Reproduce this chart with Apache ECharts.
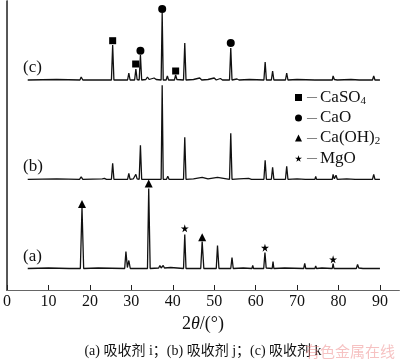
<!DOCTYPE html>
<html><head><meta charset="utf-8">
<script src="https://cdn.jsdelivr.net/npm/echarts@6/dist/echarts.min.js"></script>
<style>html,body{margin:0;padding:0;background:#fff}#c{width:400px;height:360px}</style>
</head><body><div id="c"></div>
<script>
// x tick labels
const xTicks = [0, 10, 20, 30, 40, 50, 60, 70, 80, 90];
// trace baselines (intensity offsets, a.u.)
const offsetA = 21.5, offsetB = 110.7, offsetC = 210;
// trace (a): [2theta, intensity above baseline]
const traceA = [[5,0],[10,0.5],[15,0],[17.7,0],[18.1,61],[18.5,0],[22,0.5],[28.4,0],[28.7,17],[29.05,1],[29.4,8],[29.75,0],[33.9,0],[34.2,80],[34.55,0],[36.6,0.5],[36.9,3],[37.2,0.5],[37.7,3],[38.0,0.5],[39.5,1],[42.6,0],[42.9,34],[43.2,0],[46.75,0],[47.1,27],[47.5,0],[50.5,0],[50.8,23],[51.15,0],[54.0,0],[54.3,11],[54.6,0],[57,0.5],[59.1,0],[59.3,3],[59.5,0],[61.95,0],[62.25,16],[62.55,0.5],[64,0],[64.2,7],[64.4,0],[67,0.5],[71.6,0],[71.85,5],[72.1,0],[74.3,0],[74.5,2.5],[74.7,0],[76,0.5],[78.5,0],[78.7,5],[78.9,0],[81.1,0],[81.3,2],[81.5,0],[84.3,0],[84.6,4],[84.9,0.5],[85.9,0],[86.1,2],[86.3,0],[90,0]];
// trace (b)
const traceB = [[5,0],[12,0.5],[17.5,0],[17.9,2.5],[18.3,0],[23,0.5],[23.5,1],[24,0],[25.2,0],[25.5,16],[25.8,0],[29.1,0],[29.4,6],[29.7,0],[30.5,0.5],[30.9,0],[31.1,5],[31.4,0.5],[31.9,0],[32.2,34],[32.5,0],[33.7,0],[34.0,2],[34.3,0],[37.2,0],[37.45,94],[37.7,0],[38.5,0],[38.8,3],[39.1,0],[40.5,0],[40.8,2],[41.1,0],[42.6,0],[42.9,42],[43.2,0],[45,0.5],[47.1,2],[47.5,0],[48.5,0.5],[50.8,2],[51.1,0],[53.7,0],[54.0,46],[54.3,0],[56,0.5],[58.3,1],[59,0],[62.0,0],[62.3,19],[62.6,0],[63.8,0],[64.1,12],[64.4,0],[67.2,0],[67.5,13],[67.8,0],[70,0.5],[72,0],[74.3,0],[74.5,3],[74.7,0],[78.5,0],[78.7,5],[79.0,0.5],[79.4,4],[79.7,0],[82,0.5],[84,0],[88.2,0],[88.5,5],[88.8,0],[90,0]];
// trace (c)
const traceC = [[5,0],[12,0.5],[17.6,0],[17.9,3],[18.3,0],[22.8,0],[23.1,2],[23.4,0],[23.6,1.5],[23.9,0],[25.2,0],[25.5,35],[25.8,0],[29.1,0],[29.4,7],[29.7,0],[30.8,0],[31.1,11],[31.4,0.5],[31.9,0],[32.2,25],[32.5,0],[33.5,0.5],[33.9,3],[34.3,0.5],[35.5,2],[36,0.5],[37.2,0],[37.45,67],[37.7,0],[38.4,0],[38.7,4],[39.0,0],[40.4,0],[40.7,5],[41.0,0.5],[42.6,0],[42.9,37],[43.2,0],[45,0.5],[46.5,2],[47,0],[48.5,0.5],[50,2],[50.5,0],[51.5,1.5],[52,0],[53.7,0],[54.0,32],[54.3,0],[55.5,1],[56,0],[58.5,0.5],[62.0,0],[62.3,18],[62.6,0],[63.8,0],[64.1,9],[64.4,0],[67.2,0],[67.5,7],[67.8,0],[70,0.5],[74.3,0],[74.5,2],[74.7,0],[78.5,0],[78.7,4],[79.0,0.5],[79.4,2],[79.7,0],[83,0.5],[85,0],[88.2,0],[88.5,4],[88.8,0],[90,0]];
// phase markers: [2theta, height above own baseline]
const caso4C = [[25.5,39.3],[31.05,16],[40.7,9]];
const caoC = [[32.2,29.3],[37.45,71],[54.0,37]];
const caoh2A = [[18.1,64.5],[34.2,85],[47.1,31.2]];
const mgoA = [[42.9,40.2],[62.25,20.8],[78.7,9.2]];
const traceLabels = ['(a)', '(b)', '(c)'];
const phaseNames = ['CaSO4', 'CaO', 'Ca(OH)2', 'MgO'];

const shift = (arr, off) => arr.map(p => [p[0], p[1] + off]);
const SERIF = '"Liberation Serif","Times New Roman",serif';
const STAR = 'path://M50,0 L61,35 L98,35 L68,57 L79,91 L50,70 L21,91 L32,57 L2,35 L39,35 Z';

const chart = echarts.init(document.getElementById('c'), null, {renderer: 'canvas'});
const lineS = (name, data, off) => ({
  name, type: 'line', data: shift(data, off), showSymbol: false, symbol: 'none',
  lineStyle: {color: '#111', width: 1.3}, silent: true, z: 2
});
const mark = (name, data, off, symbol, size) => ({
  name, type: 'scatter', data: shift(data, off), symbol, symbolSize: size,
  itemStyle: {color: '#000', opacity: 1}, z: 3
});
const legendFmt = {
  'CaSO4': '{d|—}{t|CaSO}{s|4}',
  'CaO': '{d|—}{t|CaO}',
  'Ca(OH)2': '{d|—}{t|Ca(OH)}{s|2}',
  'MgO': '{d|—}{t|MgO}'
};
chart.setOption({
  animation: false,
  grid: {left: 5, top: 1, right: 1, bottom: 70},
  xAxis: [{
    type: 'value', min: 0, max: 94.6, interval: 10, position: 'bottom',
    axisLine: {show: true, lineStyle: {color: '#222', width: 1.2}},
    axisTick: {show: true, inside: true, length: 5, customValues: xTicks, lineStyle: {color: '#222'}},
    axisLabel: {customValues: xTicks, margin: 4, fontFamily: SERIF, fontSize: 16, color: '#111'},
    splitLine: {show: false},
    name: '2{i|θ}/(°)', nameLocation: 'middle', nameGap: 23,
    nameTextStyle: {fontFamily: SERIF, fontSize: 18, color: '#111',
      rich: {i: {fontFamily: SERIF, fontStyle: 'italic', fontSize: 18, color: '#111'}}}
  }, {
    type: 'value', min: 0, max: 94.6, position: 'top',
    axisLine: {show: true, lineStyle: {color: '#666', width: 1}},
    axisTick: {show: false}, axisLabel: {show: false}, splitLine: {show: false}
  }],
  yAxis: [{
    type: 'value', min: 0, max: 289, position: 'left',
    axisLine: {show: true, lineStyle: {color: '#222', width: 1.5}},
    axisTick: {show: false}, axisLabel: {show: false}, splitLine: {show: false}
  }, {
    type: 'value', min: 0, max: 289, position: 'right',
    axisLine: {show: true, lineStyle: {color: '#555', width: 1}},
    axisTick: {show: false}, axisLabel: {show: false}, splitLine: {show: false}
  }],
  legend: {
    data: phaseNames, orient: 'vertical', left: 290, top: 84, itemGap: 3,
    itemWidth: 7, itemHeight: 7, selectedMode: false,
    itemStyle: {opacity: 1},
    formatter: n => legendFmt[n],
    textStyle: {fontFamily: SERIF, fontSize: 17, color: '#111',
      rich: {
        d: {fontFamily: SERIF, fontSize: 10, color: '#111', padding: [0, 3, 0, 0]},
        t: {fontFamily: SERIF, fontSize: 17, color: '#111', lineHeight: 18},
        s: {fontFamily: SERIF, fontSize: 11, color: '#111', verticalAlign: 'bottom', lineHeight: 12, padding: [6, 0, 0, 0]}
      }}
  },
  series: [
    lineS('a', traceA, offsetA),
    lineS('b', traceB, offsetB),
    lineS('c', traceC, offsetC),
    mark('CaSO4', caso4C, offsetC, 'rect', 7),
    mark('CaO', caoC, offsetC, 'circle', 8),
    mark('Ca(OH)2', caoh2A, offsetA, 'triangle', 8),
    mark('MgO', mgoA, offsetA, STAR, 8)
  ],
  graphic: [
    {type: 'text', left: 23, top: 248, style: {text: traceLabels[0], font: '17px ' + SERIF, fill: '#111'}},
    {type: 'text', left: 23, top: 158, style: {text: traceLabels[1], font: '17px ' + SERIF, fill: '#111'}},
    {type: 'text', left: 23, top: 59, style: {text: traceLabels[2], font: '17px ' + SERIF, fill: '#111'}},
    {type: 'text', x: 203, y: 351, style: {text: '(a) 吸收剂 i；(b) 吸收剂 j；(c) 吸收剂 k', font: '14px "Liberation Serif","Noto Sans CJK SC",serif', fill: '#111', textAlign: 'center', textVerticalAlign: 'middle'}},
    {type: 'text', x: 395, y: 351, style: {text: '有色金属在线', font: '15px "Noto Sans CJK SC",sans-serif', fill: 'rgba(235,120,120,0.45)', textAlign: 'right', textVerticalAlign: 'middle'}}
  ]
});
</script></body></html>
